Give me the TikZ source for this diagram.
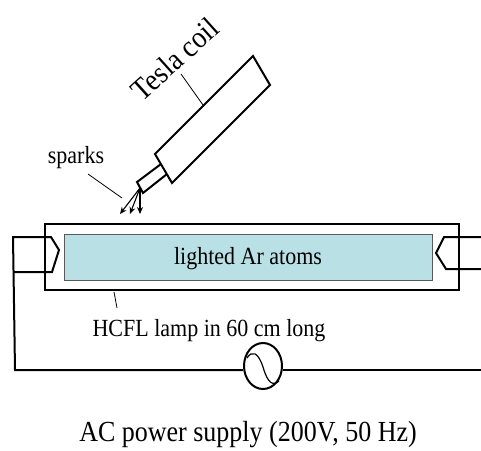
\documentclass[tikz,border=0pt]{standalone}
\usepackage{fontspec}
\setmainfont{Liberation Serif}
\usetikzlibrary{arrows.meta,shapes.geometric}
\definecolor{lightblue}{HTML}{B9E0E4}
\tikzset{
  thick line/.style={line width=2pt,black,line join=miter},
  leader/.style={line width=0.8pt,black},
  spark/.style={line width=1.1pt,black,-{Stealth[length=7pt,width=6pt]}},
  label text/.style={inner sep=0pt,font=\fontsize{22}{24}\selectfont},
  tall/.style={yscale=1.12,transform shape}
}
\begin{document}
\begin{tikzpicture}[x=1pt,y=-1pt]
\useasboundingbox (0,0) rectangle (481,450);
% lamp
\node[draw,thick line,minimum width=414pt,minimum height=66pt,inner sep=0pt,anchor=north west] (lamp) at (44,223) {};
\node[draw=black!65,line width=0.9pt,fill=lightblue,minimum width=368pt,minimum height=46pt,inner sep=0pt,anchor=north west] (tube) at (64,234) {};
\node[label text,tall] (tubetext) at (248,259) {lighted Ar atoms};
% tesla coil
\coordinate (bt) at (253,56); \coordinate (br) at (270,85);
\coordinate (bb) at (172,183); \coordinate (bl) at (155,154);
\draw[thick line] (bt) -- (br) -- (bb) -- (bl) -- cycle;
\coordinate (na) at (161,164); \coordinate (nb) at (167,174);
\coordinate (tipa) at (137,182); \coordinate (tipb) at (143,193);
\draw[thick line] (na) -- (tipa) -- (tipb) -- (nb);
\coordinate (sp) at (140,188);
\coordinate (s1) at (120,214); \coordinate (s2) at (130,214); \coordinate (s3) at (140,214);
\draw[spark] (sp) -- (s1);
\draw[spark] (sp) -- (s2);
\draw[spark] (sp) -- (s3);
% labels
\node[label text,font=\fontsize{27.5}{30}\selectfont,rotate=42,tall] (tesla) at (175,59) {Tesla coil};
\coordinate (ta) at (181,74); \coordinate (tb) at (203,105);
\draw[leader] (ta) -- (tb);
\node[label text,tall] (sparks) at (76,158) {sparks};
\coordinate (spa) at (88,174); \coordinate (spb) at (122,198);
\draw[leader] (spa) -- (spb);
\node[label text,tall] (hcfl) at (209,331) {HCFL lamp in 60 cm long};
\coordinate (ha) at (114,292); \coordinate (hb) at (117,308);
\draw[leader] (ha) -- (hb);
\node[label text,font=\fontsize{26}{28}\selectfont,tall] (ac) at (248,435) {AC power supply (200V, 50 Hz)};
% source
\node[draw,thick line,ellipse,minimum width=38pt,minimum height=46pt,inner sep=0pt] (src) at (263,366) {};
\draw[line width=1.2pt] (247,358) .. controls (252,350) and (258,352) .. (263,367) .. controls (268,384) and (273,386) .. (279,381);
% wiring
\coordinate (le) at (12,237); \coordinate (rt) at (481,370);
\draw[thick line] (le) -- (51,237) -- (59,250) -- (52,272) -- (14,272);
\draw[thick line] (13,237) -- (15,370) -- (src.west |- rt);
\draw[thick line] (src.east |- rt) -- (rt);
\draw[thick line] (481,237) -- (444,237) -- (436,253) -- (446,269) -- (481,269);
\end{tikzpicture}
\end{document}
